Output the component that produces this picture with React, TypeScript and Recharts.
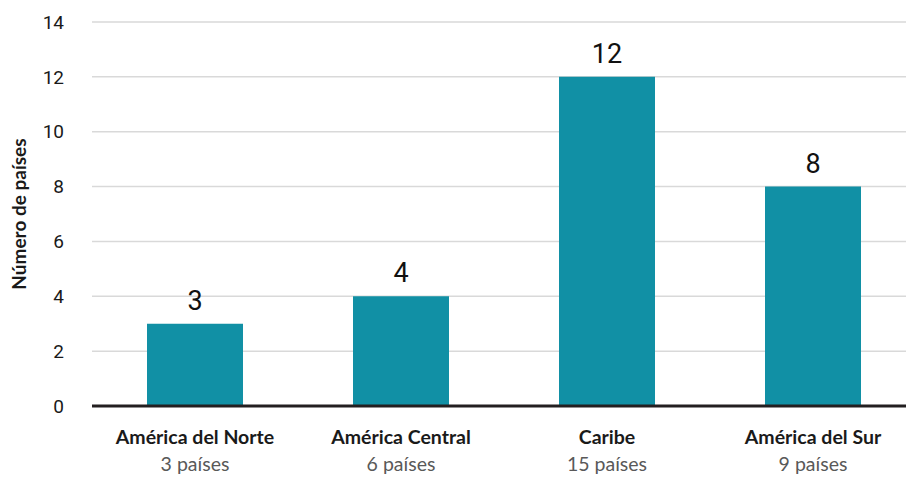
import React from 'react';
import { BarChart, Bar, XAxis, YAxis, CartesianGrid, LabelList, Label } from 'recharts';

const regions = ['América del Norte', 'América Central', 'Caribe', 'América del Sur'];
const subtitles = ['3 países', '6 países', '15 países', '9 países'];
const counts = [3, 4, 12, 8];
const yTicks = [0, 2, 4, 6, 8, 10, 12, 14];

const data = regions.map((r, i) => ({ name: r, sub: subtitles[i], value: counts[i] }));

const XTick = (props: any) => {
  const { x, y, payload, index } = props;
  return (
    <g>
      <text x={x} y={y + 30} textAnchor="middle" fontFamily="Lato" fontWeight={700} fontSize={19.5} fill="#1a1a1a">
        {payload.value}
      </text>
      <text x={x} y={y + 57} textAnchor="middle" fontFamily="Lato" fontSize={19.5} fill="#595959">
        {subtitles[index]}
      </text>
    </g>
  );
};

export default function App() {
  return (
    <div style={{ position: 'absolute', left: 0, top: 0, width: 906, height: 477, overflow: 'hidden', background: '#fff' }}>
      <BarChart width={916} height={477} data={data} margin={{ top: 22, right: 0, bottom: 0, left: 0 }} barCategoryGap={55}>
        <CartesianGrid vertical={false} stroke="#D9D9D9" strokeWidth={1.5} />
        <XAxis dataKey="name" axisLine={{ stroke: '#231F20', strokeWidth: 3 }} tickLine={false} tick={<XTick />} interval={0} height={71} />
        <YAxis
          domain={[0, 14]}
          ticks={yTicks}
          width={92}
          axisLine={false}
          tickLine={false}
          tickSize={0}
          tickMargin={28}
          tick={{ fontFamily: 'Roboto', fontSize: 19, fill: '#1a1a1a' }}
        >
          <Label
            content={(p: any) => {
              const vb = p.viewBox;
              const cx = 18;
              const cy = vb.y + vb.height / 2;
              return (
                <text x={cx} y={cy} transform={`rotate(-90, ${cx}, ${cy})`} textAnchor="middle" dominantBaseline="central" fontFamily="Lato" fontWeight={700} fontSize={19} fill="#1a1a1a">
                  Número de países
                </text>
              );
            }}
          />
        </YAxis>
        <Bar dataKey="value" fill="#1190A5" isAnimationActive={false}>
          <LabelList dataKey="value" position="top" offset={14} style={{ fontFamily: 'Roboto', fontSize: 27, fontWeight: 400, fill: '#111' }} />
        </Bar>
      </BarChart>
    </div>
  );
}
